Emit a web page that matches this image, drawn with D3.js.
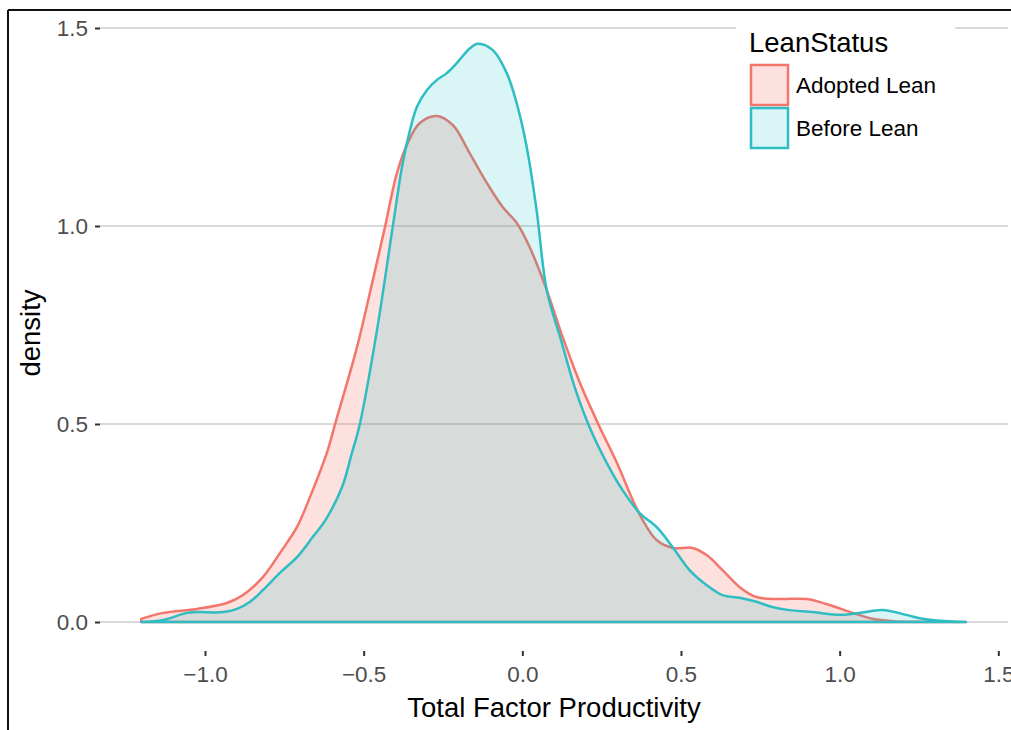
<!DOCTYPE html>
<html>
<head>
<meta charset="utf-8">
<script src="https://cdn.jsdelivr.net/npm/d3@7"></script>
<style>
  body { margin: 0; background: #fff; }
  svg { display: block; font-family: "Liberation Sans", Arial, Helvetica, sans-serif; }
</style>
</head>
<body>
<svg id="chart" width="1011" height="730"></svg>
<script>
// data
var categories = ["Adopted Lean", "Before Lean"];

var tfpAdopted  = [-1.201, -1.132, -1.025, -0.931, -0.880, -0.817, -0.764, -0.710, -0.669, -0.616, -0.590, -0.521, -0.471, -0.433, -0.395, -0.361, -0.323, -0.270, -0.219, -0.166, -0.112, -0.062, -0.018, 0.023, 0.077, 0.127, 0.181, 0.244, 0.298, 0.348, 0.379, 0.423, 0.474, 0.537, 0.581, 0.631, 0.685, 0.738, 0.811, 0.896, 0.968, 1.041, 1.104, 1.167, 1.250, 1.398];
var densAdopted = [0.008, 0.023, 0.033, 0.048, 0.068, 0.114, 0.174, 0.240, 0.316, 0.427, 0.500, 0.694, 0.864, 0.997, 1.134, 1.210, 1.260, 1.278, 1.255, 1.184, 1.109, 1.048, 1.008, 0.947, 0.838, 0.720, 0.605, 0.492, 0.402, 0.308, 0.258, 0.207, 0.187, 0.187, 0.169, 0.131, 0.088, 0.063, 0.058, 0.058, 0.043, 0.023, 0.008, 0.002, 0.0005, 0];

var tfpBefore  = [-1.201, -1.132, -1.057, -1.025, -0.943, -0.899, -0.858, -0.817, -0.764, -0.710, -0.660, -0.620, -0.568, -0.537, -0.512, -0.458, -0.408, -0.377, -0.354, -0.332, -0.301, -0.269, -0.238, -0.206, -0.165, -0.140, -0.093, -0.049, -0.018, 0.014, 0.045, 0.077, 0.122, 0.165, 0.212, 0.266, 0.316, 0.370, 0.423, 0.474, 0.527, 0.581, 0.631, 0.685, 0.738, 0.788, 0.842, 0.915, 0.999, 1.062, 1.135, 1.210, 1.261, 1.314, 1.398];
var densBefore = [0.000, 0.005, 0.023, 0.025, 0.025, 0.033, 0.051, 0.081, 0.124, 0.164, 0.215, 0.258, 0.341, 0.427, 0.500, 0.737, 1.000, 1.159, 1.242, 1.301, 1.343, 1.369, 1.386, 1.412, 1.449, 1.460, 1.444, 1.386, 1.311, 1.199, 1.040, 0.838, 0.712, 0.593, 0.492, 0.402, 0.333, 0.275, 0.240, 0.189, 0.131, 0.093, 0.068, 0.061, 0.051, 0.038, 0.030, 0.025, 0.018, 0.023, 0.030, 0.018, 0.008, 0.003, 0];

var xTicks = [-1.0, -0.5, 0.0, 0.5, 1.0, 1.5];
var yTicks = [0.0, 0.5, 1.0, 1.5];

var lineColors = ["#F2766C", "#2EBDC3"];
var fillColors = ["rgba(248,118,109,0.22)", "rgba(0,191,196,0.15)"];

var svg = d3.select("#chart");

// panel area
var panel = {left: 100, right: 1008, top: 15, bottom: 651};

var x = d3.scaleLinear().domain([-1, 1.5]).range([205, 998.3]);
var y = d3.scaleLinear().domain([0, 1.5]).range([622, 28]);

// outer frame (cropped screenshot border)
svg.append("line").attr("x1", 8).attr("y1", 10).attr("x2", 1011).attr("y2", 10)
    .attr("stroke", "#111").attr("stroke-width", 2);
svg.append("line").attr("x1", 8).attr("y1", 10).attr("x2", 8).attr("y2", 730)
    .attr("stroke", "#111").attr("stroke-width", 2);

// horizontal grid
svg.append("g").selectAll("line")
    .data(yTicks)
    .enter().append("line")
    .attr("x1", panel.left).attr("x2", panel.right)
    .attr("y1", function(d) { return y(d); })
    .attr("y2", function(d) { return y(d); })
    .attr("stroke", "#d9d9d9")
    .attr("stroke-width", 2);

// densities
var series = [
    {name: categories[0], xs: tfpAdopted, ys: densAdopted},
    {name: categories[1], xs: tfpBefore, ys: densBefore}
];

var area = d3.area()
    .x(function(d) { return x(d[0]); })
    .y0(y(0))
    .y1(function(d) { return y(d[1]); })
    .curve(d3.curveCatmullRom.alpha(0.5));

series.forEach(function(s, i) {
    var pts = s.xs.map(function(v, j) { return [v, s.ys[j]]; });
    svg.append("path")
        .datum(pts)
        .attr("d", area)
        .attr("fill", fillColors[i])
        .attr("stroke", lineColors[i])
        .attr("stroke-width", 2.5)
        .attr("stroke-linejoin", "round");
});

// axes
var yAxis = svg.append("g")
    .attr("transform", "translate(" + panel.left + ",0)")
    .call(d3.axisLeft(y).tickValues(yTicks).tickFormat(d3.format(".1f")).tickSize(5).tickPadding(7));
var xAxis = svg.append("g")
    .attr("transform", "translate(0," + panel.bottom + ")")
    .call(d3.axisBottom(x).tickValues(xTicks).tickFormat(d3.format(".1f")).tickSize(5).tickPadding(10));

[xAxis, yAxis].forEach(function(a) {
    a.select(".domain").remove();
    a.selectAll(".tick line").attr("stroke", "#333").attr("stroke-width", 2);
    a.selectAll(".tick text")
        .attr("fill", "#4d4d4d")
        .style("font-size", "22.5px")
        .style("font-family", "'Liberation Sans', Arial, sans-serif");
});

// axis titles
svg.append("text")
    .attr("x", (panel.left + panel.right) / 2)
    .attr("y", 717)
    .attr("text-anchor", "middle")
    .style("font-size", "27.5px")
    .attr("fill", "#000")
    .text("Total Factor Productivity");

svg.append("text")
    .attr("transform", "translate(40," + ((panel.top + panel.bottom) / 2) + ") rotate(-90)")
    .attr("text-anchor", "middle")
    .style("font-size", "27.5px")
    .attr("fill", "#000")
    .text("density");

// legend
var legend = svg.append("g");
legend.append("rect")
    .attr("x", 736).attr("y", 16).attr("width", 219).attr("height", 144)
    .attr("fill", "#fff");
legend.append("text")
    .attr("x", 749).attr("y", 52)
    .style("font-size", "27.5px")
    .attr("fill", "#000")
    .text("LeanStatus");

var keys = legend.selectAll(".key")
    .data(categories)
    .enter().append("g")
    .attr("transform", function(d, i) { return "translate(751," + (65 + i * 43) + ")"; });
keys.append("rect")
    .attr("width", 37).attr("height", 40)
    .attr("fill", function(d, i) { return fillColors[i]; })
    .attr("stroke", function(d, i) { return lineColors[i]; })
    .attr("stroke-width", 2.5);
keys.append("text")
    .attr("x", 45).attr("y", 20)
    .attr("dy", "0.36em")
    .style("font-size", "22.5px")
    .attr("fill", "#000")
    .text(function(d) { return d; });
</script>
</body>
</html>
